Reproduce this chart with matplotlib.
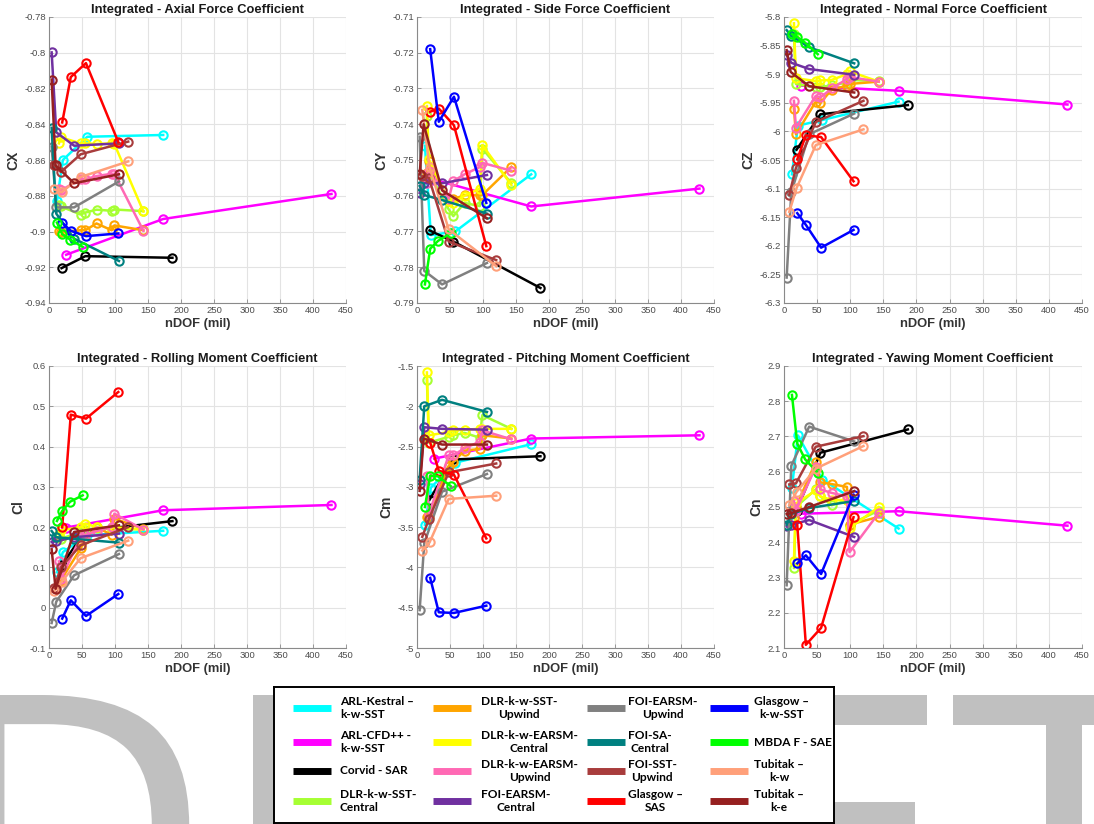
import numpy as np
import matplotlib
matplotlib.use('Agg')
import matplotlib.pyplot as plt
from matplotlib.ticker import MultipleLocator, FuncFormatter
from matplotlib.textpath import TextPath
from matplotlib.patches import PathPatch
from matplotlib.transforms import Affine2D, IdentityTransform
from matplotlib.font_manager import FontProperties

# ================================================================
#  DATA -- integrated coefficients vs grid size (nDOF, million)
#  each series: x = nDOF of the grids, rows = CX, CY, CZ, Cl, Cm, Cn
# ================================================================

arl_kestral_x = [12, 21, 58, 173]
arl_kestral = [
    [-0.883, -0.860, -0.847, -0.846],
    [-0.746, -0.771, -0.770, -0.754],
    [-6.075, -5.990, -5.980, -5.948],
    [0.088, 0.138, 0.180, 0.191],
    [-3.47, -3.01, -2.70, -2.47],
    [2.555, 2.703, 2.578, 2.439],
]

arl_cfd_x = [26, 173, 428]
arl_cfd = [
    [-0.913, -0.893, -0.879],
    [-0.7555, -0.763, -0.758],
    [-5.920, -5.929, -5.953],
    [0.199, 0.242, 0.255],
    [-2.65, -2.40, -2.36],
    [2.481, 2.488, 2.447],
]

corvid_x = [19, 55, 187]
corvid = [
    [-0.9205, -0.9138, -0.9147],
    [-0.7697, -0.7728, -0.7858],
    [-6.032, -5.970, -5.954],
    [0.105, 0.190, 0.215],
    [-3.16, -2.66, -2.62],
    [2.49, 2.654, 2.72],
]

dlr_x = [15, 18, 48, 55, 72, 95, 99, 143]
dlr_sst_central = [
    [-0.885, -0.886, -0.8905, -0.8894, -0.8878, -0.8884, -0.8877, -0.8886],
    [-0.7378, -0.7535, -0.7638, -0.7657, -0.762, -0.7629, -0.7468, -0.7565],
    [-5.829, -5.917, -5.923, -5.923, -5.919, -5.915, -5.910, -5.912],
    [0.175, 0.171, 0.188, 0.192, 0.198, 0.196, 0.196, 0.194],
    [-1.67, -2.45, -2.38, -2.36, -2.33, -2.39, -2.11, -2.28],
    [2.327, 2.50, 2.55, 2.53, 2.505, 2.52, 2.45, 2.49],
]
dlr_sst_upwind = [
    [-0.8996, -0.9002, -0.8993, -0.8993, -0.8955, -0.8993, -0.8966, -0.8993],
    [-0.7535, -0.7502, -0.7615, -0.761, -0.7598, -0.7598, -0.7598, -0.7519],
    [-5.960, -6.005, -5.948, -5.950, -5.927, -5.920, -5.917, -5.913],
    [0.064, 0.068, 0.147, 0.171, 0.200, 0.181, 0.221, 0.196],
    [-3.38, -3.37, -2.74, -2.69, -2.55, -2.53, -2.36, -2.40],
    [2.47, 2.50, 2.628, 2.57, 2.565, 2.557, 2.45, 2.472],
]
dlr_earsm_central = [
    [-0.8507, -0.8473, -0.8507, -0.8507, -0.851, -0.8507, -0.851, -0.8888],
    [-0.7349, -0.7498, -0.7614, -0.762, -0.760, -0.758, -0.7458, -0.757],
    [-5.811, -5.907, -5.912, -5.911, -5.910, -5.900, -5.895, -5.913],
    [0.184, 0.192, 0.200, 0.209, 0.200, 0.198, 0.200, 0.194],
    [-1.58, -2.36, -2.32, -2.30, -2.29, -2.28, -2.28, -2.28],
    [2.348, 2.51, 2.547, 2.53, 2.52, 2.52, 2.44, 2.50],
]
dlr_earsm_upwind = [
    [-0.8765, -0.877, -0.8707, -0.8707, -0.869, -0.8677, -0.8677, -0.8996],
    [-0.7563, -0.753, -0.7608, -0.7559, -0.754, -0.752, -0.7508, -0.753],
    [-5.9465, -5.9934, -5.9378, -5.9407, -5.925, -5.9085, -5.905, -5.913],
    [0.115, 0.072, 0.175, 0.181, 0.190, 0.200, 0.2335, 0.194],
    [-2.86, -3.34, -2.61, -2.61, -2.52, -2.44, -2.30, -2.41],
    [2.517, 2.49, 2.614, 2.55, 2.54, 2.53, 2.372, 2.483],
]

foi_x = [4, 11, 38, 106]
foi_earsm_central = [
    [-0.7998, -0.8445, -0.852, -0.8507],
    [-0.7592, -0.7565, -0.7565, -0.7542],
    [-5.867, -5.880, -5.891, -5.901],
    [0.163, 0.165, 0.175, 0.184],
    [-2.96, -2.26, -2.28, -2.29],
    [2.445, 2.45, 2.463, 2.415],
]
foi_earsm_upwind = [
    [-0.8525, -0.8865, -0.8865, -0.872],
    [-0.7435, -0.781, -0.7848, -0.7788],
    [-6.2555, -6.1066, -6.005, -5.9688],
    [-0.038, 0.015, 0.0804, 0.1333],
    [-4.53, -3.70, -3.06, -2.84],
    [2.278, 2.617, 2.728, 2.686],
]
foi_sa_central = [
    [-0.842, -0.890, -0.904, -0.9165],
    [-0.7573, -0.7598, -0.7612, -0.765],
    [-5.823, -5.833, -5.853, -5.881],
    [0.1904, 0.175, 0.171, 0.1615],
    [-2.91, -2.00, -1.92, -2.07],
    [2.45, 2.48, 2.497, 2.517],
]

foi_sst_x = [8, 18, 48, 120]
foi_sst_upwind = [
    [-0.863, -0.8667, -0.8568, -0.8497],
    [-0.7545, -0.755, -0.7728, -0.778],
    [-6.1107, -6.0638, -5.9835, -5.9465],
    [0.050, 0.100, 0.155, 0.200],
    [-3.62, -3.40, -2.82, -2.71],
    [2.564, 2.567, 2.671, 2.701],
]

glasgow_x = [20, 33, 56, 105]
glasgow_sas = [
    [-0.839, -0.8136, -0.8058, -0.850],
    [-0.7365, -0.7356, -0.7403, -0.7741],
    [-6.049, -6.007, -6.0098, -6.0872],
    [0.200, 0.4792, 0.4693, 0.5355],
    [-2.45, -2.80, -2.85, -3.64],
    [2.45, 2.109, 2.157, 2.471],
]
glasgow_sst = [
    [-0.8951, -0.8996, -0.9026, -0.9011],
    [-0.719, -0.7393, -0.7323, -0.762],
    [-6.1429, -6.1634, -6.2033, -6.1722],
    [-0.027, 0.0183, -0.0205, 0.034],
    [-4.13, -4.557, -4.565, -4.475],
    [2.34, 2.363, 2.31, 2.535],
]

mbda_x = [12, 20, 32, 51]
mbda_sae = [
    [-0.895, -0.9015, -0.9045, -0.9086],
    [-0.7848, -0.7748, -0.7726, -0.7705],
    [-5.830, -5.835, -5.845, -5.865],
    [0.2153, 0.2401, 0.2632, 0.279],
    [-3.25, -2.86, -2.87, -2.99],
    [2.818, 2.68, 2.635, 2.597],
]

tubitak_kw_x = [8, 19, 48, 120]
tubitak_kw = [
    [-0.8765, -0.878, -0.8695, -0.8608],
    [-0.736, -0.752, -0.7694, -0.7797],
    [-6.1406, -6.099, -6.0239, -5.9964],
    [0.041, 0.064, 0.123, 0.1665],
    [-3.79, -3.69, -3.15, -3.11],
    [2.505, 2.543, 2.609, 2.673],
]

tubitak_ke_x = [4, 10, 38, 106]
tubitak_ke = [
    [-0.815, -0.863, -0.873, -0.868],
    [-0.754, -0.740, -0.7585, -0.7663],
    [-5.858, -5.896, -5.921, -5.932],
    [0.145, 0.047, 0.188, 0.2045],
    [-3.05, -2.40, -2.475, -2.475],
    [2.48, 2.482, 2.50, 2.545],
]

# ── Series list (legend order, column by column) ─────────────────
series = [
    ('ARL-Kestral –\nk-w-SST',     '#00FFFF', arl_kestral_x,  arl_kestral),
    ('ARL-CFD++ -\nk-w-SST',       '#FF00FF', arl_cfd_x,      arl_cfd),
    ('Corvid - SAR',               '#000000', corvid_x,       corvid),
    ('DLR-k-w-SST-\nCentral',      '#A6FF33', dlr_x,          dlr_sst_central),
    ('DLR-k-w-SST-\nUpwind',       '#FFA500', dlr_x,          dlr_sst_upwind),
    ('DLR-k-w-EARSM-\nCentral',    '#FFFF00', dlr_x,          dlr_earsm_central),
    ('DLR-k-w-EARSM-\nUpwind',     '#FF69B4', dlr_x,          dlr_earsm_upwind),
    ('FOI-EARSM-\nCentral',        '#7030A0', foi_x,          foi_earsm_central),
    ('FOI-EARSM-\nUpwind',         '#808080', foi_x,          foi_earsm_upwind),
    ('FOI-SA-\nCentral',           '#008080', foi_x,          foi_sa_central),
    ('FOI-SST-\nUpwind',           '#A83C3C', foi_sst_x,      foi_sst_upwind),
    ('Glasgow –\nSAS',             '#FF0000', glasgow_x,      glasgow_sas),
    ('Glasgow –\nk-w-SST',         '#0000FF', glasgow_x,      glasgow_sst),
    ('MBDA F - SAE',               '#00FF00', mbda_x,         mbda_sae),
    ('Tubitak –\nk-w',             '#FFA07A', tubitak_kw_x,   tubitak_kw),
    ('Tubitak –\nk-e',             '#962020', tubitak_ke_x,   tubitak_ke),
]

panel_titles = [
    'Integrated - Axial Force Coefficient',
    'Integrated - Side Force Coefficient',
    'Integrated - Normal Force Coefficient',
    'Integrated - Rolling Moment Coefficient',
    'Integrated - Pitching Moment Coefficient',
    'Integrated - Yawing Moment Coefficient',
]
panel_ylabels = ['CX', 'CY', 'CZ', 'Cl', 'Cm', 'Cn']
panel_ylims = [(-0.94, -0.78), (-0.79, -0.71), (-6.3, -5.8),
               (-0.1, 0.6), (-5.0, -1.5), (2.1, 2.9)]
panel_ysteps = [0.02, 0.01, 0.05, 0.1, 0.5, 0.1]

# ================================================================
#  FIGURE
# ================================================================

plt.rcParams['font.family'] = ['Liberation Sans', 'DejaVu Sans']

W, H = 1094, 824
fig = plt.figure(figsize=(W / 100, H / 100), dpi=100)

# ── DRAFT watermark (pixel boxes: left edge, top edge, cap height) ──
wm_prop = FontProperties(family='DejaVu Sans')
wm_cap = 262
for letter, left_px in [('D', -31), ('R', 253), ('A', 500), ('F', 776), ('T', 953)]:
    tp = TextPath((0, 0), letter, size=1, prop=wm_prop)
    ext = tp.get_extents()
    s = wm_cap / ext.height
    tr = (Affine2D().translate(-ext.x0, -ext.y1).scale(s)
          .translate(left_px, H - 695))
    fig.add_artist(PathPatch(tr.transform_path(tp), facecolor='#c0c0c0',
                             edgecolor='none', transform=IdentityTransform(),
                             zorder=-1))

# ── Six coefficient panels ───────────────────────────────────────
col_px = [(49, 346), (417, 714), (784, 1082)]
row_px = [(17, 303), (366, 648)]

tick_fmt = FuncFormatter(lambda v, p: f'{round(v, 4) + 0.0:g}')

for k in range(6):
    l, r = col_px[k % 3]
    t, b = row_px[k // 3]
    ax = fig.add_axes([l / W, 1 - b / H, (r - l) / W, (b - t) / H])

    for name, color, x, vals in series:
        ax.plot(x, vals[k], color=color, lw=1.8, marker='o', ms=6,
                mfc='none', mew=1.5)

    ax.set_xlim(0, 450)
    ax.set_ylim(*panel_ylims[k])
    ax.xaxis.set_major_locator(MultipleLocator(50))
    ax.yaxis.set_major_locator(MultipleLocator(panel_ysteps[k]))
    ax.yaxis.set_major_formatter(tick_fmt)
    ax.xaxis.set_major_formatter(tick_fmt)

    ax.grid(True, color='#e3e3e3', lw=0.8)
    ax.set_axisbelow(True)
    for side in ['top', 'right']:
        ax.spines[side].set_visible(False)
    for side in ['left', 'bottom']:
        ax.spines[side].set_color('#8a8a8a')
        ax.spines[side].set_linewidth(0.8)
    ax.tick_params(direction='in', length=3, width=0.6, color='#8a8a8a',
                   labelsize=6.8, labelcolor='#4d4d4d', pad=2)

    ax.set_title(panel_titles[k], fontsize=9.3, fontweight='bold',
                 color='#1a1a1a', pad=3)
    ax.set_xlabel('nDOF (mil)', fontsize=9.3, fontweight='bold',
                  color='#333333', labelpad=2)
    ax.set_ylabel(panel_ylabels[k], fontsize=10, fontweight='bold',
                  color='#333333', labelpad=3)

# ── Legend box (own axes, pixel coordinates from top-left) ──────
lg = fig.add_axes([274 / W, 1 - 823 / H, 560 / W, 136 / H], zorder=3)
lg.set_xlim(274, 834)
lg.set_ylim(823, 687)
lg.set_xticks([])
lg.set_yticks([])
lg.set_facecolor('white')
for sp in lg.spines.values():
    sp.set_color('black')
    sp.set_linewidth(1.4)

swatch_left = [293, 433, 587, 710]
text_left = [340, 481, 628, 754]
row_y = [708, 742, 771, 801]

for i, (name, color, _, _) in enumerate(series):
    col, row = divmod(i, 4)
    x0, y0 = swatch_left[col], row_y[row]
    lg.plot([x0, x0 + 38], [y0, y0], color=color, lw=5,
            solid_capstyle='butt')
    lg.text(text_left[col], y0, name, ha='left', va='center',
            fontsize=8.55, fontweight='bold', family='Lato',
            linespacing=1.27, multialignment='left' if col == 0 else 'center')

fig.savefig('out.png', dpi=100)
